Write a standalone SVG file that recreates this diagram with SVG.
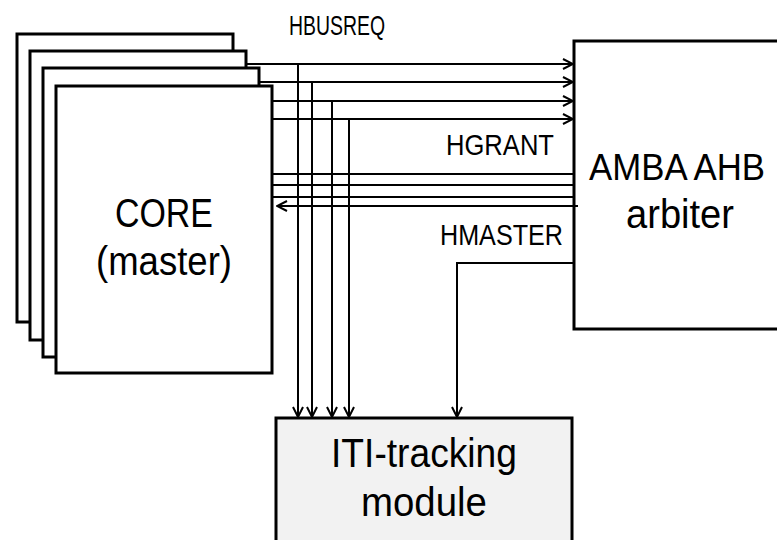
<svg xmlns="http://www.w3.org/2000/svg" width="777" height="540" viewBox="0 0 777 540">
<defs>
<marker id="arr" viewBox="0 0 12 12" refX="11" refY="6" markerWidth="12" markerHeight="12" markerUnits="userSpaceOnUse" orient="auto">
<path d="M1,1 L11,6 L1,11" fill="none" stroke="#000" stroke-width="2"/>
</marker>
<style>
.box{fill:#fff;stroke:#000;stroke-width:3}
.wire{fill:none;stroke:#000;stroke-width:2}
.lbl{font-family:"Liberation Sans",Arial,sans-serif;fill:#000}
</style>
</defs>
<rect width="777" height="540" fill="#fff"/>
<g id="core">
<rect class="box" x="17" y="34" width="216" height="288"/>
<rect class="box" x="30" y="51" width="216" height="289"/>
<rect class="box" x="43" y="68" width="216" height="289"/>
<rect class="box" x="56" y="86" width="216" height="287"/>
<text class="lbl" x="164" y="227" font-size="40" text-anchor="middle" textLength="98" lengthAdjust="spacingAndGlyphs">CORE</text>
<text class="lbl" x="164" y="275" font-size="40" text-anchor="middle" textLength="136" lengthAdjust="spacingAndGlyphs">(master)</text>
</g>
<g id="arbiter">
<rect class="box" x="574" y="41" width="220" height="288"/>
<text class="lbl" x="677" y="180" font-size="37" text-anchor="middle" textLength="176" lengthAdjust="spacingAndGlyphs">AMBA AHB</text>
<text class="lbl" x="680" y="228" font-size="40" text-anchor="middle" textLength="108" lengthAdjust="spacingAndGlyphs">arbiter</text>
</g>
<g id="iti">
<rect x="276" y="418" width="296" height="140" fill="#f2f2f2" stroke="#000" stroke-width="3"/>
<text class="lbl" x="424" y="467" font-size="40" text-anchor="middle" textLength="186" lengthAdjust="spacingAndGlyphs">ITI-tracking</text>
<text class="lbl" x="424" y="516" font-size="40" text-anchor="middle" textLength="126" lengthAdjust="spacingAndGlyphs">module</text>
</g>
<g id="labels">
<text class="lbl" x="289" y="35" font-size="28" textLength="96" lengthAdjust="spacingAndGlyphs">HBUSREQ</text>
<text class="lbl" x="446" y="155" font-size="29" textLength="108" lengthAdjust="spacingAndGlyphs">HGRANT</text>
<text class="lbl" x="440" y="245" font-size="29" textLength="123" lengthAdjust="spacingAndGlyphs">HMASTER</text>
</g>
<g id="connectors">
<path class="wire" d="M247,64 H573" marker-end="url(#arr)"/>
<path class="wire" d="M260,82 H573" marker-end="url(#arr)"/>
<path class="wire" d="M273,101 H573" marker-end="url(#arr)"/>
<path class="wire" d="M273,119 H573" marker-end="url(#arr)"/>
<path class="wire" d="M298,64 V417" marker-end="url(#arr)"/>
<path class="wire" d="M312,82 V417" marker-end="url(#arr)"/>
<path class="wire" d="M332,101 V417" marker-end="url(#arr)"/>
<path class="wire" d="M349,119 V417" marker-end="url(#arr)"/>
<path class="wire" d="M273,174 H574"/>
<path class="wire" d="M273,185 H574"/>
<path class="wire" d="M273,197 H574"/>
<path class="wire" d="M578,206 H277" marker-end="url(#arr)"/>
<path class="wire" d="M574,263 H457 V417" marker-end="url(#arr)"/>
</g>
</svg>
